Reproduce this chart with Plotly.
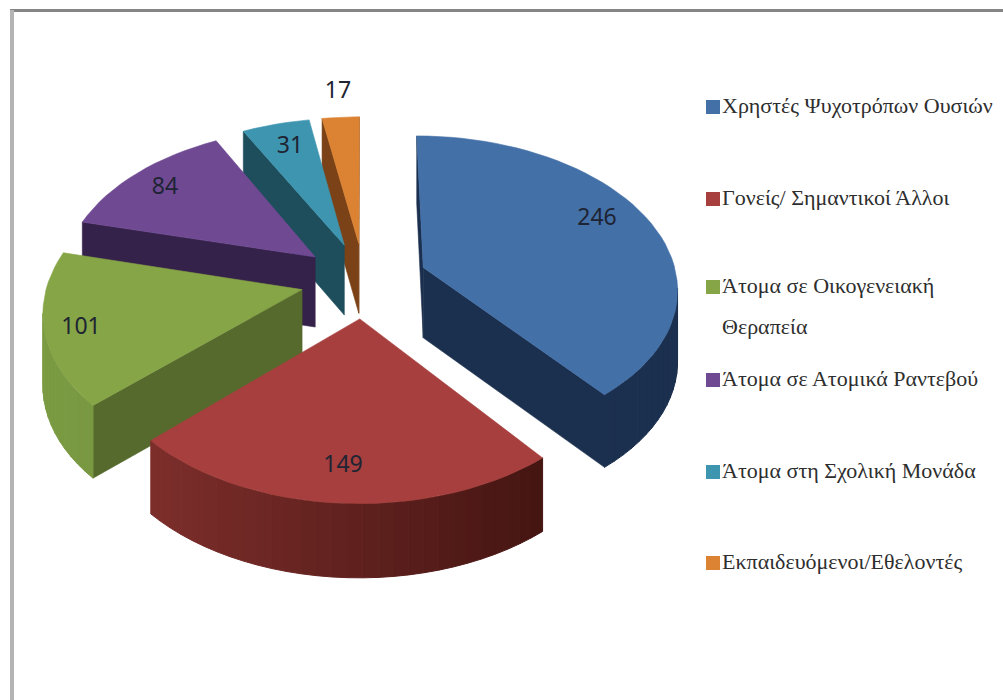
import math
import plotly.graph_objects as go

categories = ["Χρηστές Ψυχοτρόπων Ουσιών", "Γονείς/ Σημαντικοί Άλλοι", "Άτομα σε Οικογενειακή",
              "Άτομα σε Ατομικά Ραντεβού", "Άτομα στη Σχολική Μονάδα", "Εκπαιδευόμενοι/Εθελοντές"]
values = [246, 149, 101, 84, 31, 17]

top_colors = ["#4470A8", "#A63F3D", "#86A547", "#6F4A93", "#3E95B0", "#DB8332"]
wall_colors = ["#1B2F4E", "#5A1F1E", "#566A2E", "#35224A", "#1E4D5C", "#7A4216"]
arc_left = ["#1B2F4E", "#8A3431", "#7A9A42", "#35224A", "#1E4D5C", "#7A4216"]
arc_right = ["#1B2F4E", "#451512", "#5A7232", "#35224A", "#1E4D5C", "#7A4216"]

label_pos = [(597, 219), (343, 466), (81, 328), (165, 188), (290, 147), (338, 92)]
legend_y = [107, 199, 287, 380, 472, 563]
legend_second_line = ("Θεραπεία", 328)

CX, CY, A, B, K, EXPLODE = 364, 280, 254, 151, 0.125, 0.25


def project(px, py):
    w = 1 + K * py
    return CX + A * px / w, CY - B * py / w


def depth(py):
    return 70.5 - 3.0 * py


def hex_mix(c1, c2, t):
    a = [int(c1[i:i + 2], 16) for i in (1, 3, 5)]
    b = [int(c2[i:i + 2], 16) for i in (1, 3, 5)]
    return "rgb(%d,%d,%d)" % tuple(round(p + (q - p) * t) for p, q in zip(a, b))


def area(pts):
    return sum(pts[i][0] * pts[(i + 1) % len(pts)][1] - pts[(i + 1) % len(pts)][0] * pts[i][1]
               for i in range(len(pts))) / 2


fig = go.Figure()


def poly(pts, color, lw=1.0):
    fig.add_trace(go.Scatter(x=[p[0] for p in pts] + [pts[0][0]], y=[p[1] for p in pts] + [pts[0][1]],
                             mode="lines", fill="toself", fillcolor=color,
                             line=dict(color=color, width=lw), hoverinfo="skip", showlegend=False))


total = sum(values)
spans = [v / total * 2 * math.pi for v in values]
starts = [sum(spans[:i]) for i in range(len(values))]

for i in [5, 4, 3, 2, 1, 0]:
    s, d = starts[i], spans[i]
    mid = s + d / 2
    ox, oy = EXPLODE * math.sin(mid), EXPLODE * math.cos(mid)
    n = max(6, int(d / 0.05))
    angs = [s + d * j / n for j in range(n + 1)]
    rim = [(ox + math.sin(t), oy + math.cos(t)) for t in angs]
    apex = project(ox, oy)
    top = [apex] + [project(*p) for p in rim]
    # radial walls: cull by the winding of the projected quad
    for p, sign in ((rim[0], -1), (rim[-1], 1)):
        a1 = project(*p)
        quad = [apex, a1, (a1[0], a1[1] + depth(p[1])), (apex[0], apex[1] + depth(oy))]
        if area(quad) * sign > 0:
            poly(quad, wall_colors[i], 0.6)
    # outer wall, front-facing strips only
    for j in range(n):
        p0, p1 = project(*rim[j]), project(*rim[j + 1])
        quad = [p0, p1, (p1[0], p1[1] + depth(rim[j + 1][1])), (p0[0], p0[1] + depth(rim[j][1]))]
        if area(quad) < 0:
            sx = (p0[0] + p1[0]) / 2
            poly(quad, hex_mix(arc_left[i], arc_right[i], min(1, max(0, (sx - 60) / 480))))
    poly(top, top_colors[i], 0.6)

for v, (x, y) in zip(values, label_pos):
    fig.add_trace(go.Scatter(x=[x], y=[y], mode="text", text=[str(v)], hoverinfo="skip", showlegend=False,
                             textfont=dict(family="Noto Sans", size=23, color="#1E2433")))

FONT = dict(family="Liberation Serif", size=22, color="#2E2E2E")
for name, y, c in zip(categories, legend_y, top_colors):
    fig.add_trace(go.Scatter(x=[713], y=[y], mode="markers", hoverinfo="skip", showlegend=False,
                             marker=dict(symbol="square", size=14, color=c)))
    fig.add_trace(go.Scatter(x=[722], y=[y], mode="text", text=[name], textposition="middle right",
                             hoverinfo="skip", showlegend=False, cliponaxis=False, textfont=FONT))
fig.add_trace(go.Scatter(x=[722], y=[legend_second_line[1]], mode="text", text=[legend_second_line[0]],
                         textposition="middle right", hoverinfo="skip", showlegend=False, textfont=FONT))

fig.update_layout(
    width=1003, height=700, margin=dict(l=0, r=0, t=0, b=0), paper_bgcolor="white", plot_bgcolor="white",
    xaxis=dict(range=[0, 1003], visible=False, fixedrange=True),
    yaxis=dict(range=[700, 0], visible=False, fixedrange=True),
    shapes=[
        dict(type="line", xref="x", yref="y", x0=10, y0=10.5, x1=1003, y1=10.5,
             line=dict(color="#858585", width=3)),
        dict(type="line", xref="x", yref="y", x0=12, y0=10, x1=12, y1=700,
             line=dict(color="#B4B4B4", width=4)),
    ],
)
fig.write_html("out.html", config=dict(displayModeBar=False),
               post_script="document.body.style.margin='0';document.body.style.overflow='hidden';")
